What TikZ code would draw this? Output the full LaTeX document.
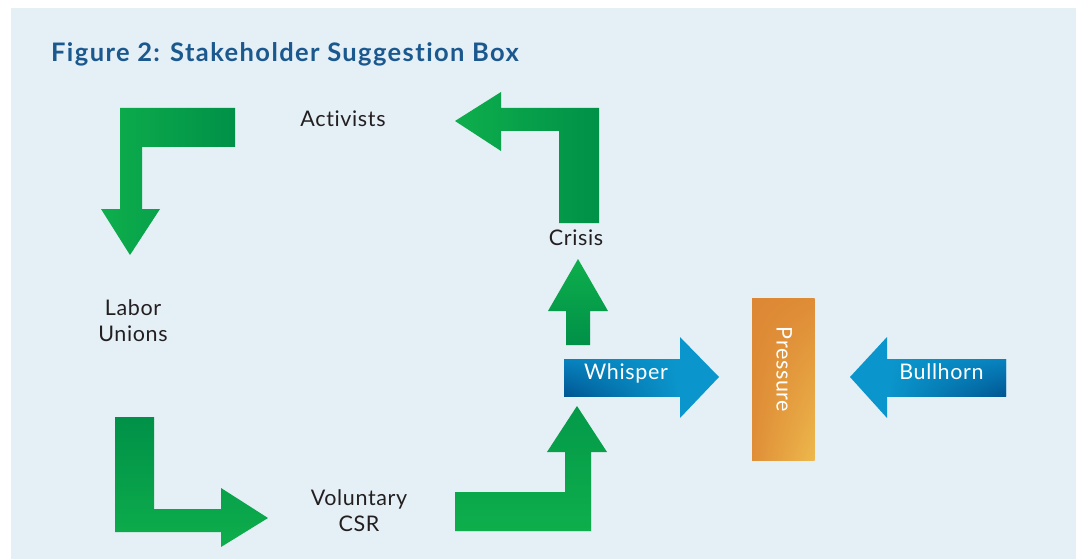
\documentclass[tikz,border=0pt]{standalone}
\usepackage{fontspec}
\setmainfont{Lato}[LetterSpace=3, Ligatures=NoCommon]
\newfontfamily\headfont{Lato}[LetterSpace=5.5, Ligatures=NoCommon]
\usetikzlibrary{shadings}
\definecolor{bgblue}{RGB}{228,239,246}
\definecolor{headblue}{RGB}{26,88,142}
\definecolor{textgray}{RGB}{35,31,32}
\definecolor{greenL}{RGB}{14,174,76}
\definecolor{greenD}{RGB}{0,145,72}
\definecolor{blueL}{RGB}{10,150,204}
\definecolor{blueM}{RGB}{8,130,190}
\definecolor{blueD}{RGB}{0,86,146}
\definecolor{orangeD}{RGB}{221,135,52}
\definecolor{orangeL}{RGB}{237,185,76}
\tikzset{
  lab/.style     = {font=\fontsize{21.5}{26}\selectfont, text=textgray,
                    inner sep=0pt, align=center},
  headline/.style = {font=\headfont\fontsize{25.5}{30}\selectfont\bfseries,
                    text=headblue, inner sep=0pt, anchor=base west},
  wlab/.style    = {lab, text=white, anchor=base},
  garrow/.style  = {left color=greenL, right color=greenD},
  barrow/.style  = {fill=blueL}
}
\begin{document}
\begin{tikzpicture}[x=1pt,y=-1pt]   % pixel grid, y grows downwards
  \useasboundingbox (0,0) rectangle (1076,559);
  \fill[white] (0,0) rectangle (1076,559);
  \fill[bgblue] (11,8) rectangle (1076,559);

  \node[headline] (title) at (51,61.7) {Figure 2: Stakeholder Suggestion Box};

  % green cycle arrows
  \shade[garrow] (235,108) -- (120,108) -- (120,209) -- (101,209) -- (130,255)
    -- (160,209) -- (142,209) -- (142,147) -- (235,147) -- cycle;
  \shade[garrow] (559,223) -- (599,223) -- (599,108) -- (501,108) -- (501,92)
    -- (455,121) -- (501,151) -- (501,131) -- (559,131) -- cycle;
  \shade[top color=greenL, bottom color=greenD] (566,345) -- (590,345) -- (590,311)
    -- (608,311) -- (578,259) -- (548,311) -- (566,311) -- cycle;
  \shade[top color=greenD, bottom color=greenL] (115,417) -- (154,417) -- (154,509)
    -- (221,509) -- (221,488) -- (268,518) -- (221,547) -- (221,532) -- (115,532) -- cycle;
  \shade[top color=greenD!70!greenL, bottom color=greenL] (455,531) -- (591,531)
    -- (591,452) -- (607,452) -- (577,406) -- (547,452) -- (565,452) -- (565,492)
    -- (455,492) -- cycle;

  % blue arrows and the pressure box
  \fill[barrow] (564,359) -- (680,359) -- (680,337) -- (719,377) -- (680,418)
    -- (680,396) -- (564,396) -- cycle;
  \shade[upper left=blueM, lower left=blueD, upper right=blueL, lower right=blueL]
    (564,359) rectangle (680,396);
  \fill[barrow] (1006,359) -- (887,359) -- (887,337) -- (850,377) -- (887,418)
    -- (887,396) -- (1006,396) -- cycle;
  \shade[upper left=blueL, lower left=blueL, upper right=blueM, lower right=blueD]
    (887,359) rectangle (1006,396);
  \shade[upper left=orangeD, upper right=orangeD!90!orangeL,
         lower left=orangeD!85!orangeL, lower right=orangeL]
    (752,298) rectangle (814.5,460);

  \node[lab, anchor=base] (activists) at (343,126.7) {Activists};
  \node[lab, anchor=base] (crisis) at (576,245) {Crisis};
  \node[lab] (unions) at (133,321) {Labor\\Unions};
  \node[lab] (csr) at (359,511) {Voluntary\\CSR};
  \node[wlab] (whisper) at (626,379.3) {Whisper};
  \node[wlab] (bullhorn) at (941.5,379.3) {Bullhorn};
  \node[lab, text=white, rotate=-90, anchor=base west] (pressure) at (776.6,326.7) {Pressure};
\end{tikzpicture}
\end{document}
